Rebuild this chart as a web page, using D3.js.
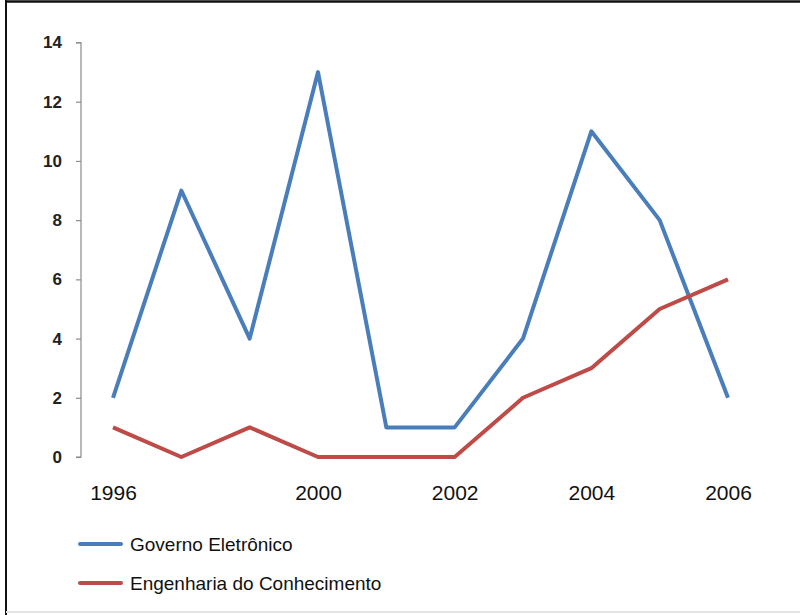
<!DOCTYPE html>
<html>
<head>
<meta charset="utf-8">
<script src="https://cdn.jsdelivr.net/npm/d3@7"></script>
<style>
  html, body { margin: 0; padding: 0; background: #fff; }
  svg { display: block; }
</style>
</head>
<body>
<script>
const categories = ["1996", "1997", "1998", "2000", "2001", "2002", "2003", "2004", "2005", "2006"];
const xTickLabels = ["1996", "", "", "2000", "", "2002", "", "2004", "", "2006"];
const governoEletronico = [2, 9, 4, 13, 1, 1, 4, 11, 8, 2];
const engenhariaConhecimento = [1, 0, 1, 0, 0, 0, 2, 3, 5, 6];
const yTicks = [0, 2, 4, 6, 8, 10, 12, 14];
const seriesNames = ["Governo Eletrônico", "Engenharia do Conhecimento"];

const W = 800, H = 615;
const svg = d3.select("body").append("svg").attr("width", W).attr("height", H);

// frame
svg.append("rect").attr("x", 0).attr("y", 0).attr("width", W).attr("height", H).attr("fill", "#fff");
svg.append("line").attr("x1", 5).attr("x2", W).attr("y1", 1.5).attr("y2", 1.5).attr("stroke", "#111").attr("stroke-width", 2.5);
svg.append("line").attr("x1", 6).attr("x2", 6).attr("y1", 0).attr("y2", H).attr("stroke", "#111").attr("stroke-width", 2);
svg.append("line").attr("x1", 6).attr("x2", W).attr("y1", 612).attr("y2", 612).attr("stroke", "#e4e4e4").attr("stroke-width", 2);

const x = d3.scalePoint().domain(categories).range([113, 728]);
const y = d3.scaleLinear().domain([0, 14]).range([457, 42.5]);

// y axis
const yAxis = d3.axisLeft(y).tickValues(yTicks).tickSize(5).tickPadding(14).tickFormat(d3.format("d"));
const ya = svg.append("g").attr("transform", "translate(81,0)").call(yAxis);
ya.select(".domain").attr("stroke", "#8c8c8c").attr("stroke-width", 1.2).attr("d", `M-5,${y(14)}H0V${y(0)}H-5`);
ya.selectAll(".tick line").attr("stroke", "#8c8c8c").attr("stroke-width", 1.2);
ya.selectAll(".tick text").attr("fill", "#222").attr("font-family", "Liberation Sans, Arial, sans-serif")
  .attr("font-size", 17).attr("font-weight", "bold");

// x axis (labels only)
const xAxis = d3.axisBottom(x).tickSize(0).tickPadding(0).tickFormat((d, i) => xTickLabels[i]);
const xa = svg.append("g").attr("transform", "translate(0,484)").call(xAxis);
xa.select(".domain").remove();
xa.selectAll(".tick text").attr("fill", "#111").attr("font-family", "Liberation Sans, Arial, sans-serif")
  .attr("font-size", 21).attr("dy", "0.78em");

const colors = ["#4A7EBB", "#BE4B48"];
const seriesData = [governoEletronico, engenhariaConhecimento];
const line = d3.line().x((d, i) => x(categories[i])).y(d => y(d));

seriesData.forEach((vals, k) => {
  svg.append("path").datum(vals).attr("d", line).attr("fill", "none")
    .attr("stroke", colors[k]).attr("stroke-width", 4).attr("stroke-linejoin", "round");
});

// legend
const legendY = [544, 583];
seriesNames.forEach((name, k) => {
  svg.append("line").attr("x1", 80).attr("x2", 121).attr("y1", legendY[k]).attr("y2", legendY[k])
    .attr("stroke", colors[k]).attr("stroke-width", 4).attr("stroke-linecap", "round");
  svg.append("text").attr("x", 130).attr("y", legendY[k]).attr("dy", "0.36em")
    .attr("font-family", "Liberation Sans, Arial, sans-serif").attr("font-size", 19).attr("fill", "#111")
    .text(name);
});
</script>
</body>
</html>
